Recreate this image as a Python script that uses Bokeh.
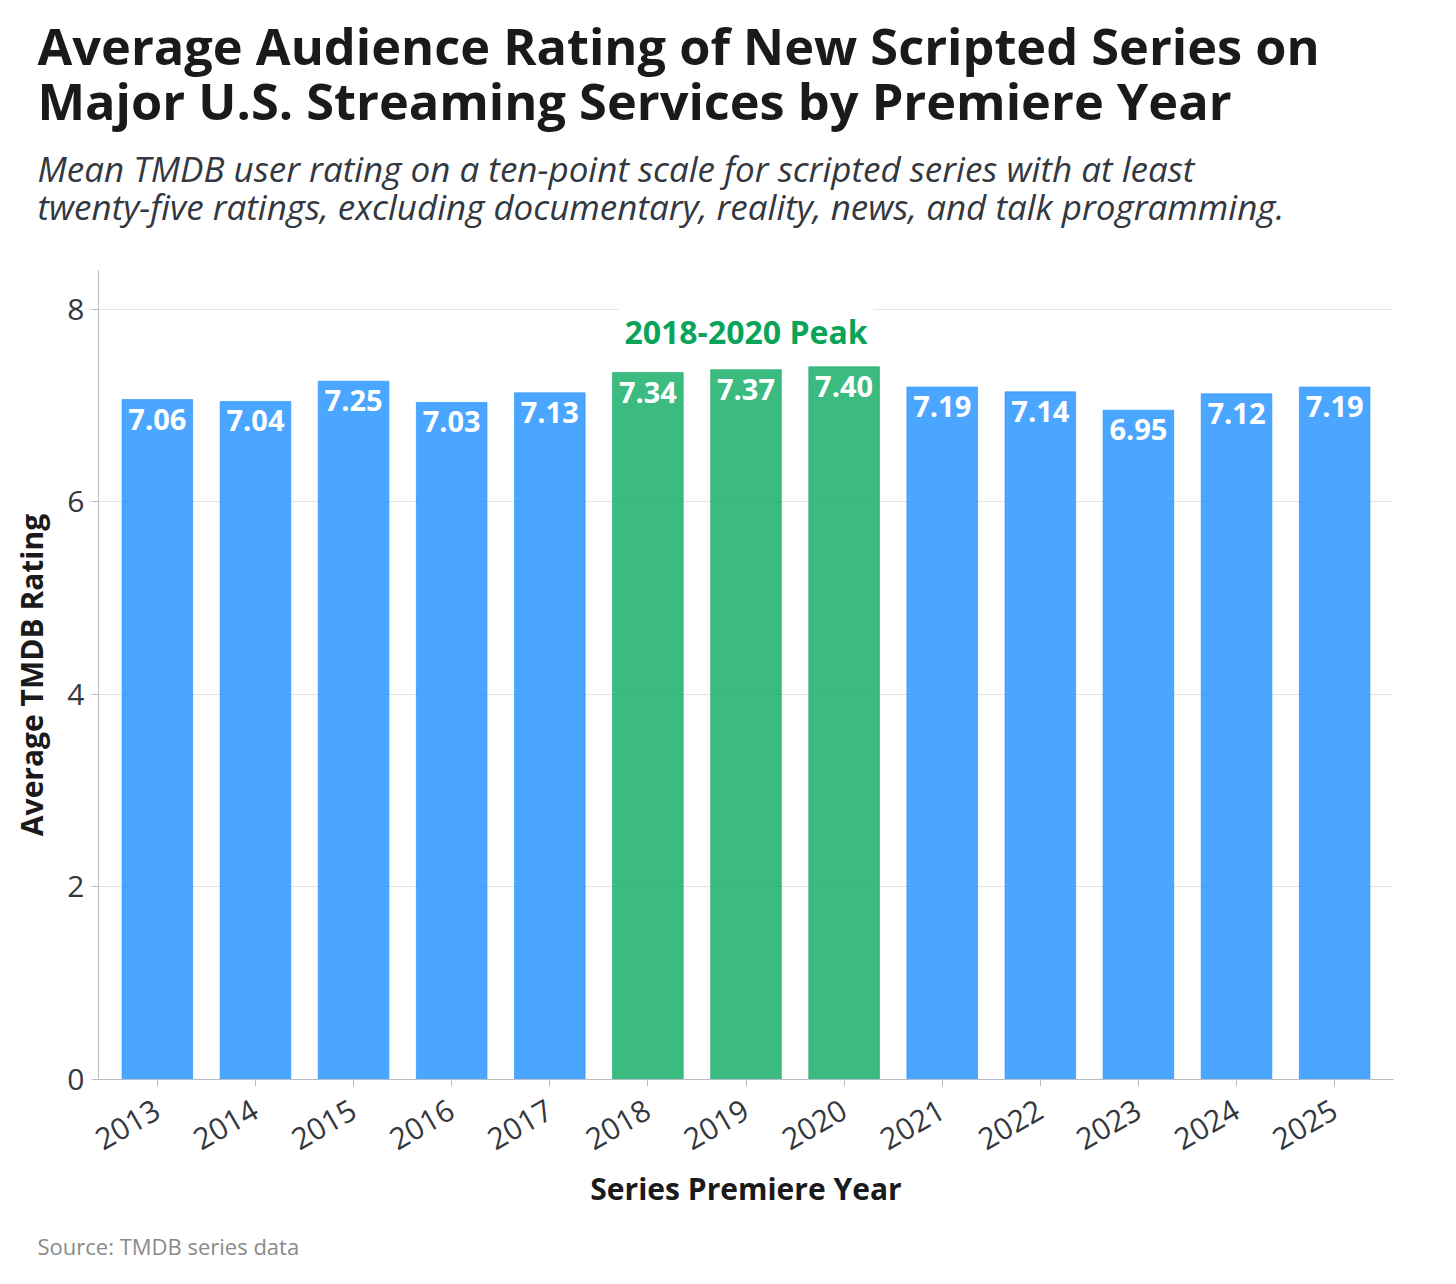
import math
from bokeh.plotting import figure
from bokeh.models import ColumnDataSource, Title, FactorRange, Range1d, LabelSet, FixedTicker
from bokeh.embed import file_html
from bokeh.resources import INLINE
from bokeh.core.properties import value

years = ["2013", "2014", "2015", "2016", "2017", "2018", "2019", "2020",
         "2021", "2022", "2023", "2024", "2025"]
ratings = [7.06, 7.04, 7.25, 7.03, 7.13, 7.34, 7.37, 7.40, 7.19, 7.14, 6.95, 7.12, 7.19]
peak_years = ["2018", "2019", "2020"]
y_ticks = [0, 2, 4, 6, 8]

title_lines = ["Average Audience Rating of New Scripted Series on",
               "Major U.S. Streaming Services by Premiere Year"]
subtitle_lines = ["Mean TMDB user rating on a ten-point scale for scripted series with at least",
                  "twenty-five ratings, excluding documentary, reality, news, and talk programming."]
peak_text = "2018-2020 Peak"
source_text = "Source: TMDB series data"

BLUE = "#1E90FF"
GREEN = "#0BAA60"
FONT = "Open Sans"

colors = [GREEN if y in peak_years else BLUE for y in years]
labels = [f"{r:.2f}" for r in ratings]
src = ColumnDataSource(dict(year=years, rating=ratings, color=colors, label=labels))

p = figure(width=1440, height=1280, output_backend="svg", toolbar_location=None,
           x_range=FactorRange(*years, range_padding=0.1, range_padding_units="absolute"),
           y_range=Range1d(0, 8.4),
           min_border_left=98, min_border_right=47, min_border_bottom=201, min_border_top=270)
p.outline_line_color = None
p.background_fill_color = "white"
p.border_fill_color = "white"

sub = Title(text="\n".join(subtitle_lines), align="left", text_font=FONT, text_font_size="35px",
            text_font_style="italic", text_color="#333840", offset=-61, standoff=80,
            text_line_height=0.81)
p.add_layout(sub, "above")
ttl = Title(text="\n".join(title_lines), align="left", text_font=FONT, text_font_size="50.5px",
            text_font_style="bold", text_color="#1a1a1a", offset=-61, standoff=-63,
            text_line_height=0.79)
p.add_layout(ttl, "above")

p.vbar(x="year", top="rating", width=0.72, source=src, fill_color="color",
       fill_alpha=0.8, line_color="color", line_alpha=0.6, line_width=1)

lbl = LabelSet(x="year", y="rating", text="label", source=src, text_align="center",
               text_baseline="top", y_offset=-9, text_color="white",
               text_font=value(FONT), text_font_size="29px", text_font_style="bold")
p.add_layout(lbl)

peak_src = ColumnDataSource(dict(x=[peak_years[1]], y=[max(ratings[5:8]) + 0.37], t=[peak_text]))
p.text(x="x", y="y", text="t", source=peak_src, text_align="center", text_baseline="middle",
       text_color="#0AA35A", text_font=value(FONT), text_font_size="32px",
       text_font_style="bold", background_fill_color="white", padding=6)

for ax in (p.xaxis, p.yaxis):
    ax.axis_line_color = "#b8bcc4"
    ax.major_tick_line_color = "#b8bcc4"
    ax.major_tick_out = 7
    ax.major_tick_in = 0
    ax.minor_tick_line_color = None
    ax.major_label_text_font = FONT
    ax.major_label_text_font_size = "30px"
    ax.major_label_text_color = "#333840"
    ax.axis_label_text_font = FONT
    ax.axis_label_text_font_size = "30px"
    ax.axis_label_text_font_style = "bold"
    ax.axis_label_text_color = "#1a1a1a"

p.yaxis.ticker = FixedTicker(ticks=y_ticks)
p.yaxis.axis_label = "Average TMDB Rating"
p.yaxis.major_label_standoff = 7
p.yaxis.axis_label_standoff = 12
p.xaxis.axis_label = "Series Premiere Year"
p.xaxis.major_label_orientation = math.pi / 6
p.xaxis.major_label_standoff = 21
p.xaxis.axis_label_standoff = 5

p.xgrid.grid_line_color = None
p.ygrid.grid_line_color = "#e3e3e3"
p.ygrid.grid_line_width = 1

src_title = Title(text=source_text, align="left", text_font=FONT, text_font_size="22px",
                  text_font_style="normal", text_color="#8a8a8a", offset=-61, standoff=35,
                  text_line_height=0.6)
p.add_layout(src_title, "below")

open("out.html", "w").write(file_html(p, INLINE))
